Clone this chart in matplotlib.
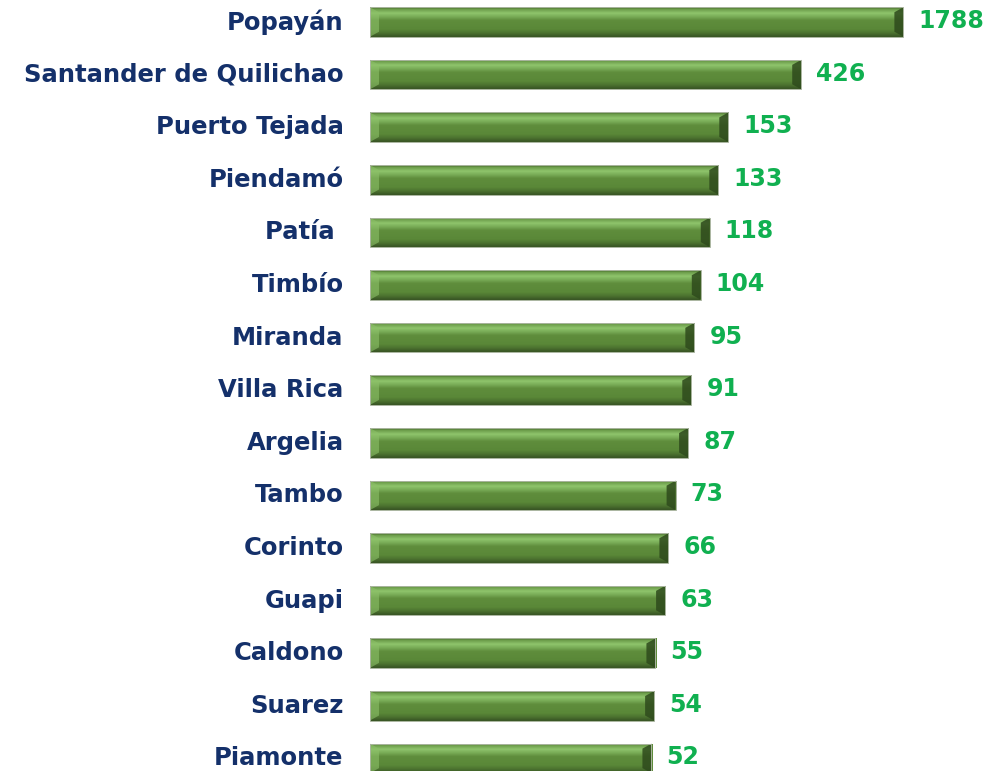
import numpy as np
import matplotlib.pyplot as plt
from matplotlib.patches import Polygon
from matplotlib.colors import to_rgb

# municipios y casos
municipios = ['Popayán', 'Santander de Quilichao', 'Puerto Tejada', 'Piendamó', 'Patía ',
              'Timbío', 'Miranda', 'Villa Rica', 'Argelia', 'Tambo', 'Corinto', 'Guapi',
              'Caldono', 'Suarez', 'Piamonte']
casos = [1788, 426, 153, 133, 118, 104, 95, 91, 87, 73, 66, 63, 55, 54, 52]

navy = '#14306a'
verde_txt = '#10b050'

fig = plt.figure(figsize=(9.9, 7.71), dpi=100)
ax = fig.add_axes([370 / 990, 0, 620 / 990, 1])
ax.set_xscale('log')
ax.set_xlim(1, 10 ** (620 / 164))
ax.set_ylim(14.24, -0.418)

y = np.arange(len(municipios))
h = 0.56
bars = ax.barh(y, casos, height=h, left=1, color='#5e8c3a', edgecolor='none', zorder=1)

# degradado vertical del bisel
stops = [(0.0, '#3f5e28'), (0.06, '#6a9a48'), (0.2, '#8fc46c'), (0.32, '#79ac57'),
         (0.45, '#5f8d3c'), (0.75, '#5a8838'), (0.88, '#4c7330'), (1.0, '#3a5725')]
pos = np.linspace(0, 1, 64)
cols = np.array([to_rgb(c) for _, c in stops])
sp = [s for s, _ in stops]
grad = np.stack([np.interp(pos, sp, cols[:, k]) for k in range(3)], axis=-1)[:, None, :]

fig.canvas.draw()
for b, v, yi in zip(bars, casos, y):
    ax.imshow(grad, extent=(1, v, yi + h / 2, yi - h / 2), aspect='auto',
              interpolation='bilinear', zorder=2)
    (x0, y1), (x1, y0) = ax.transData.transform([(1, yi - h / 2), (v, yi + h / 2)])
    bw, bv = 9, 5
    ax.add_patch(Polygon([(x0, y1), (x0 + bw, y1 - bv), (x0 + bw, y0 + bv), (x0, y0)],
                         closed=True, transform=None, facecolor='#8cc068', alpha=0.6,
                         edgecolor='none', zorder=3))
    ax.add_patch(Polygon([(x1, y1), (x1 - bw, y1 - bv), (x1 - bw, y0 + bv), (x1, y0)],
                         closed=True, transform=None, facecolor='#2e4a1c', alpha=0.85,
                         edgecolor='none', zorder=3))
    ax.add_patch(Polygon([(x0, y1), (x1, y1), (x1, y0), (x0, y0)], closed=True,
                         transform=None, facecolor='none', edgecolor='#aab5a0',
                         linewidth=0.7, zorder=4))
    ax.annotate(str(v), (v, yi), xytext=(15, 1), textcoords='offset pixels',
                ha='left', va='center', color=verde_txt, fontsize=17,
                fontweight='bold', zorder=5)

ax.set_yticks(y)
ax.set_yticklabels(municipios, color=navy, fontsize=17.5, fontweight='bold')
for t in ax.get_yticklabels():
    t.set_va('center')
ax.tick_params(axis='y', length=0, pad=19)
ax.set_xticks([])
ax.minorticks_off()
ax.tick_params(axis='x', which='both', length=0, labelbottom=False)
for s in ax.spines.values():
    s.set_visible(False)

fig.savefig('out.png', dpi=100)
